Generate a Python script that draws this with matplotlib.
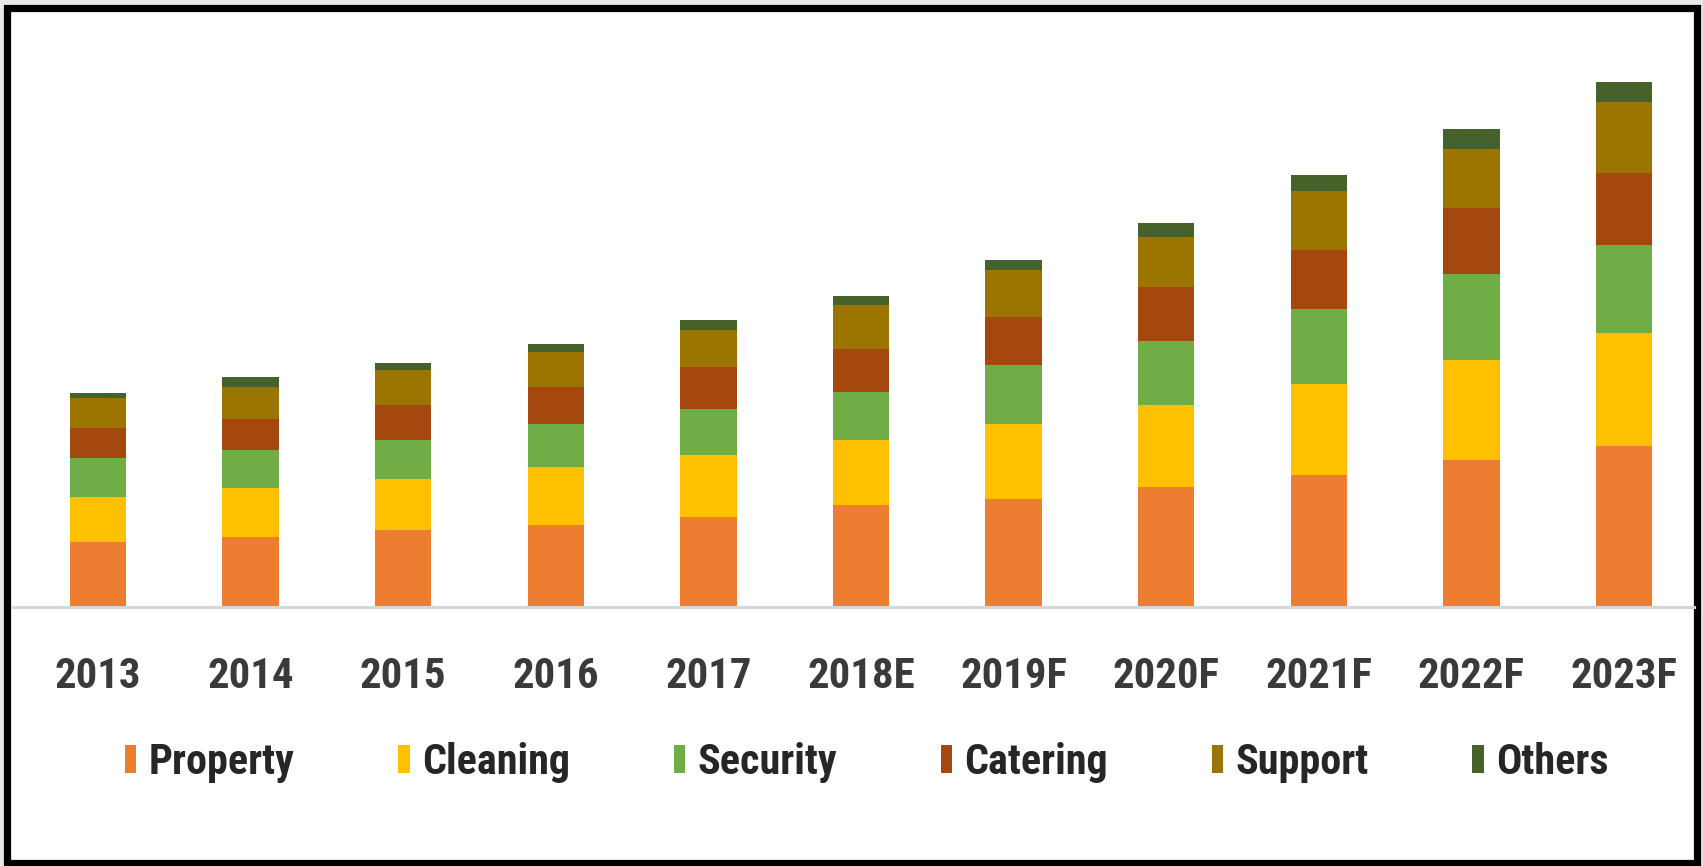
# Stacked bar chart of facility services market by segment, 2013-2023F

# %%
import numpy as np
import matplotlib.pyplot as plt
from matplotlib import font_manager as fm
from matplotlib.patches import Rectangle
from matplotlib.textpath import TextPath

# %% data (bar heights, arbitrary units)
years = ['2013', '2014', '2015', '2016', '2017', '2018E', '2019F', '2020F', '2021F', '2022F', '2023F']
segments = ['Property', 'Cleaning', 'Security', 'Catering', 'Support', 'Others']

property_vals = [65, 70, 77, 82, 90, 102, 108, 120, 132, 147, 161]
cleaning_vals = [45, 49, 51, 58, 62, 65, 75, 82, 91, 100, 113]
security_vals = [39, 38, 39, 43, 46, 48, 59, 64, 75, 86, 88]
catering_vals = [30, 31, 35, 37, 42, 43, 48, 54, 59, 66, 72]
support_vals = [30, 32, 35, 35, 37, 44, 47, 50, 59, 59, 71]
others_vals = [5, 10, 7, 8, 10, 9, 10, 14, 16, 20, 20]

colors = ['#ED7D31', '#FFC000', '#70AD47', '#A5480F', '#9C7400', '#46622A']

# %% pick a narrow bold font if there is one, else plain DejaVu
installed = {f.name for f in fm.fontManager.ttflist}
narrow = ['Liberation Sans Narrow', 'DejaVu Sans Condensed', 'Noto Sans Condensed',
          'Roboto Condensed', 'Open Sans Condensed']
family = next((n for n in narrow if n in installed), None)
if family is None:
    cond = [f.name for f in fm.fontManager.ttflist
            if f.stretch in ('condensed', 'semi-condensed', 'extra-condensed')]
    family = cond[0] if cond else 'DejaVu Sans'
fp = fm.FontProperties(family=family, weight='bold', stretch='condensed')


def size_for(txt, px):
    # font size (pt) so the ink of txt is px pixels wide at 100 dpi
    w = TextPath((0, 0), txt, size=100, prop=fp).get_extents().width
    return px * 72 / 100 / (w / 100)


tick_size = size_for('2013', 83)
leg_size = size_for('Property', 143)

# %% figure
W, H = 1703, 866
fig = plt.figure(figsize=(W / 100, H / 100), dpi=100, facecolor='#e8e8e8')

# black frame round the picture
frame = Rectangle((7.5 / W, 3 / H), (1697 - 7.5) / W, (863 - 8) / H,
                  transform=fig.transFigure, facecolor='white',
                  edgecolor='black', linewidth=5.2, zorder=-5)
fig.patches.append(frame)

ax = fig.add_axes([12 / W, (H - 607) / H, (1694 - 12) / W, (607 - 12) / H])
ax.set_facecolor('none')
ax.set_zorder(2)

x = np.arange(len(years))
bottom = np.zeros(len(years))
series = [property_vals, cleaning_vals, security_vals, catering_vals, support_vals, others_vals]
for name, vals, col in zip(segments, series, colors):
    ax.bar(x, vals, width=0.37, bottom=bottom, color=col, label=name, zorder=2)
    bottom += np.array(vals)

ax.set_xlim(-0.564, 10.459)
ax.set_ylim(0, 595)

for side in ['top', 'right', 'left']:
    ax.spines[side].set_visible(False)
ax.spines['bottom'].set_color('#d6d6d6')
ax.spines['bottom'].set_linewidth(2.2)
ax.spines['bottom'].set_zorder(3)

ax.set_yticks([])
ax.set_xticks(x)
ax.set_xticklabels(years, fontproperties=fp, fontsize=tick_size, color='#3a3a3a')
ax.tick_params(axis='x', length=0, pad=35)

leg_prop = fp.copy()
leg_prop.set_size(leg_size)
leg = fig.legend(loc='center', bbox_to_anchor=(0.509, 0.12), ncol=6, frameon=False,
                 prop=leg_prop, handlelength=0.27, handleheight=0.65,
                 handletextpad=0.3, columnspacing=2.45, labelcolor='#262626')

fig.savefig('out.png', dpi=100, facecolor=fig.get_facecolor())
